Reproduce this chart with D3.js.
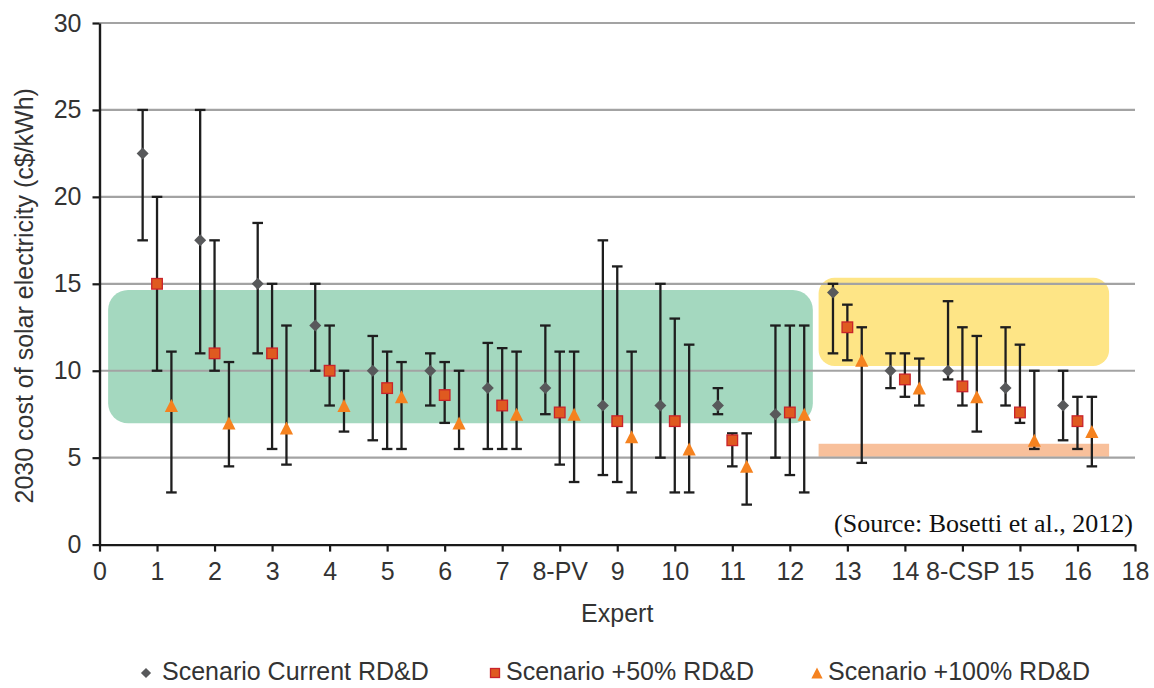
<!DOCTYPE html>
<html>
<head>
<meta charset="utf-8">
<script src="https://cdn.jsdelivr.net/npm/d3@7"></script>
<style>
  html, body { margin: 0; padding: 0; background: #fff; }
  svg { display: block; }
  text { font-family: "Liberation Sans", Arial, sans-serif; fill: #333; }
</style>
</head>
<body>
<svg id="chart" width="1154" height="688"></svg>
<script>
// ---------- DATA ----------
const experts = ["1","2","3","4","5","6","7","8-PV","9","10","11","12","13","14","8-CSP","15","16"];
const expertPos = [1,2,3,4,5,6,7,8,9,10,11,12,13,14,15,16,17];

const currentVal  = [22.5,17.5,15,12.6,10,10,9,9,8,8,8,7.5,14.5,10,10,9,8];
const currentLow  = [17.5,11,11,10,6,8,5.5,7.5,4,5,7.5,5,11,9,9.5,8,6];
const currentHigh = [25,25,18.5,15,12,11,11.6,12.6,17.5,15,9,12.6,15,11,14,12.5,10];

const plus50Val  = [15,11,11,10,9,8.6,8,7.6,7.1,7.1,6,7.6,12.5,9.5,9.1,7.6,7.1];
const plus50Low  = [10,10,5.5,8,5.5,7,5.5,4.6,3.6,3,4.5,4,10.6,8.5,8,7,5.5];
const plus50High = [20,17.5,15,12.6,11.1,10.5,11.3,11.1,16,13,6.4,12.6,13.8,11,12.5,11.5,8.5];

const plus100Val  = [8,7,6.7,8,8.5,7,7.5,7.5,6.2,5.5,4.5,7.5,10.6,9,8.5,6,6.5];
const plus100Low  = [3,4.5,4.6,6.5,5.5,5.5,5.5,3.6,3,3,2.3,3,4.7,8,6.5,5.5,4.5];
const plus100High = [11.1,10.5,12.6,10,10.5,10,11.1,11.1,11.1,11.5,6.4,12.6,12.5,10.7,12,10,8.5];

const seriesNames = ["Scenario Current RD&D","Scenario +50% RD&D","Scenario +100% RD&D"];

const xTickValues = [0,1,2,3,4,5,6,7,8,9,10,11,12,13,14,15,16,17,18];
const xTickLabels = ["0","1","2","3","4","5","6","7","8-PV","9","10","11","12","13","14","8-CSP","15","16","18"];
const yTickValues = [0,5,10,15,20,25,30];

// highlighted regions (data units): [x0, x1, y0, y1]
const greenRegion  = [0.15, 12.4, 6.98, 14.65];
const yellowRegion = [12.5, 17.55, 10.27, 15.35];
const orangeRegion = [12.5, 17.55, 5.05, 5.8];

// ---------- CHART ----------
const svg = d3.select("#chart");
const x = d3.scaleLinear().domain([0, 18]).range([99.5, 1135]);
const y = d3.scaleLinear().domain([0, 30]).range([544.6, 23]);

// regions
const regions = [
  {r: greenRegion,  fill: "#a4d8bf", rx: 20},
  {r: yellowRegion, fill: "#fee586", rx: 16},
  {r: orangeRegion, fill: "#f8c09b", rx: 0}
];
svg.append("g").selectAll("rect").data(regions).join("rect")
  .attr("x", d => x(d.r[0]))
  .attr("width", d => x(d.r[1]) - x(d.r[0]))
  .attr("y", d => y(d.r[3]))
  .attr("height", d => y(d.r[2]) - y(d.r[3]))
  .attr("rx", d => d.rx).attr("ry", d => d.rx)
  .attr("fill", d => d.fill);

// gridlines
svg.append("g").selectAll("line").data(yTickValues.filter(v => v > 0)).join("line")
  .attr("x1", x(0)).attr("x2", x(18))
  .attr("y1", d => y(d)).attr("y2", d => y(d))
  .attr("stroke", "#a3a3a3").attr("stroke-width", 2.2);

// axes
const yAxis = d3.axisLeft(y).tickValues(yTickValues).tickSize(7).tickSizeOuter(0).tickPadding(11);
const gy = svg.append("g").attr("transform", `translate(${x(0)},0)`).call(yAxis);
const xAxis = d3.axisBottom(x).tickValues(xTickValues)
  .tickFormat((d, i) => xTickLabels[i]).tickSize(7).tickSizeOuter(0).tickPadding(11);
const gx = svg.append("g").attr("transform", `translate(0,${y(0)})`).call(xAxis);
[gx, gy].forEach(g => {
  g.select(".domain").attr("stroke", "#1a1a1a").attr("stroke-width", 2.4);
  g.selectAll(".tick line").attr("stroke", "#1a1a1a").attr("stroke-width", 2.2);
  g.selectAll(".tick text").attr("font-size", 25).attr("fill", "#333")
    .attr("font-family", "'Liberation Sans', Arial, sans-serif");
});

// axis titles
svg.append("text").attr("x", (x(0) + x(18)) / 2).attr("y", 622)
  .attr("text-anchor", "middle").attr("font-size", 25).text("Expert");
svg.append("text").attr("transform", `translate(33,${(y(0)+y(30))/2 + 12}) rotate(-90)`)
  .attr("text-anchor", "middle").attr("font-size", 25)
  .text("2030 cost of solar electricity (c$/kWh)");

// source
svg.append("text").attr("x", 1133).attr("y", 532).attr("text-anchor", "end")
  .style("font-family", "'Liberation Serif', 'Times New Roman', serif")
  .attr("font-size", 26).style("fill", "#111")
  .text("(Source: Bosetti et al., 2012)");

// series
const series = [
  {name: seriesNames[0], val: currentVal, lo: currentLow, hi: currentHigh, off: -0.25, type: "diamond"},
  {name: seriesNames[1], val: plus50Val,  lo: plus50Low,  hi: plus50High,  off: 0,     type: "square"},
  {name: seriesNames[2], val: plus100Val, lo: plus100Low, hi: plus100High, off: 0.25,  type: "triangle"}
];

function marker(g, type, cx, cy, scale) {
  const s = scale || 1;
  if (type === "diamond") {
    const h = 6 * s;
    g.append("path").attr("d", `M${cx},${cy-h}L${cx+h},${cy}L${cx},${cy+h}L${cx-h},${cy}Z`)
      .attr("fill", "#58595b");
  } else if (type === "square") {
    const h = 5.3 * s;
    g.append("rect").attr("x", cx - h).attr("y", cy - h).attr("width", 2*h).attr("height", 2*h)
      .attr("fill", "#df5a20").attr("stroke", "#c9232b").attr("stroke-width", 1.3);
  } else {
    const w = 6.6 * s, h = 6.5 * s;
    g.append("path").attr("d", `M${cx},${cy-h}L${cx+w},${cy+h}L${cx-w},${cy+h}Z`)
      .attr("fill", "#f5821f");
  }
}

const barG = svg.append("g");
series.forEach(s => {
  expertPos.forEach((p, i) => {
    const cx = x(p + s.off);
    const y1 = y(s.hi[i]), y2 = y(s.lo[i]);
    barG.append("line").attr("x1", cx).attr("x2", cx).attr("y1", y1).attr("y2", y2)
      .attr("stroke", "#1e1e1e").attr("stroke-width", 2.3);
    [y1, y2].forEach(yy => barG.append("line")
      .attr("x1", cx - 5.3).attr("x2", cx + 5.3).attr("y1", yy).attr("y2", yy)
      .attr("stroke", "#1e1e1e").attr("stroke-width", 2.3));
  });
});
const markG = svg.append("g");
series.forEach(s => {
  expertPos.forEach((p, i) => marker(markG, s.type, x(p + s.off), y(s.val[i])));
});

// legend
const legend = svg.append("g");
const legendItems = [
  {type: "diamond", mx: 146, tx: 162},
  {type: "square", mx: 495, tx: 506},
  {type: "triangle", mx: 817, tx: 828}
];
legendItems.forEach((d, i) => {
  marker(legend, d.type, d.mx, 673, 0.85);
  legend.append("text").attr("x", d.tx).attr("y", 680).attr("font-size", 25).text(seriesNames[i]);
});
</script>
</body>
</html>
